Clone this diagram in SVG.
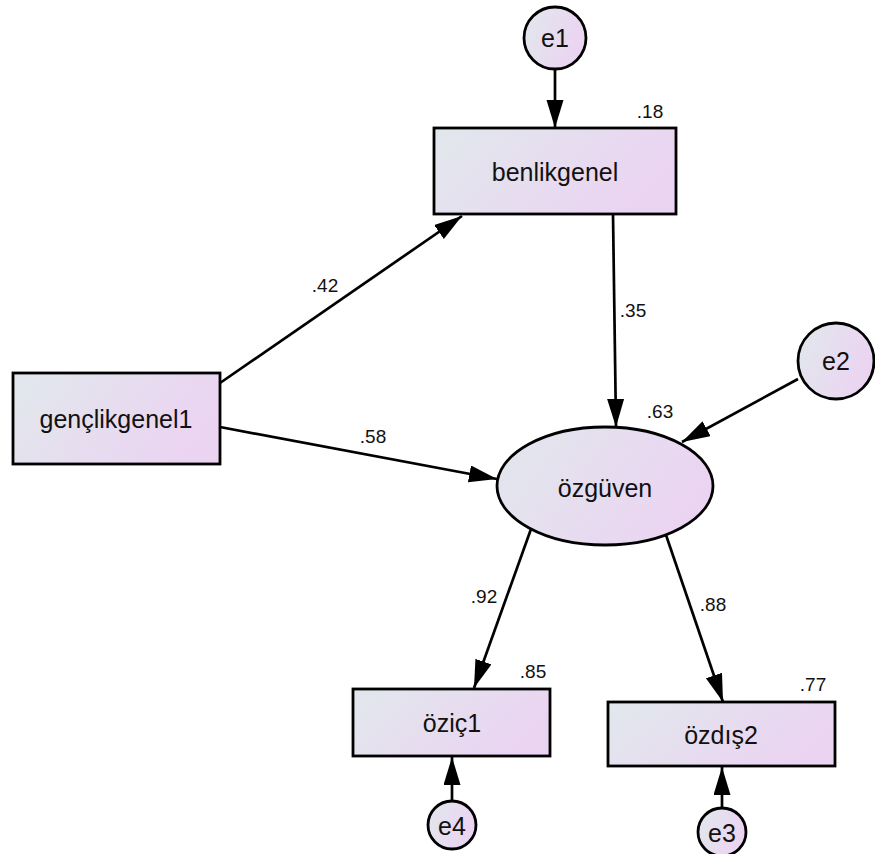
<svg xmlns="http://www.w3.org/2000/svg" width="875" height="854" viewBox="0 0 875 854">
<defs>
<linearGradient id="fill" x1="0" y1="0" x2="1" y2="0.35">
<stop offset="0" stop-color="#e1e8ec"/>
<stop offset="1" stop-color="#ebd4f2"/>
</linearGradient>
<marker id="arr" markerUnits="userSpaceOnUse" markerWidth="30" markerHeight="18" refX="28" refY="8.5" orient="auto">
<path d="M0,0 L28,8.5 L0,17 z" fill="#000"/>
</marker>
<style>
.shape{fill:url(#fill);stroke:#000;stroke-width:2.8}
.lbl{font-family:"Liberation Sans",Arial,sans-serif;font-size:25px;fill:#111;text-anchor:middle;dominant-baseline:central}
.num{font-family:"Liberation Sans",Arial,sans-serif;font-size:19px;fill:#111;text-anchor:middle;dominant-baseline:central}
.edge{stroke:#000;stroke-width:2.7;fill:none;marker-end:url(#arr)}
</style>
</defs>
<rect width="875" height="854" fill="#fff"/>
<g id="connectors">
<line class="edge" x1="555" y1="70" x2="555" y2="128"/>
<line class="edge" x1="220" y1="383" x2="462" y2="216"/>
<line class="edge" x1="220" y1="427" x2="497" y2="479"/>
<line class="edge" x1="613" y1="214" x2="616" y2="427"/>
<line class="edge" x1="798" y1="379" x2="682" y2="442"/>
<line class="edge" x1="531" y1="529" x2="474" y2="688"/>
<line class="edge" x1="666" y1="535" x2="723" y2="702"/>
<line class="edge" x1="452" y1="801" x2="452" y2="757"/>
<line class="edge" x1="722" y1="808" x2="722" y2="767"/>
<text class="num" x="325" y="285">.42</text>
<text class="num" x="373" y="436">.58</text>
<text class="num" x="633" y="310">.35</text>
<text class="num" x="484" y="596">.92</text>
<text class="num" x="713" y="604">.88</text>
</g>
<g id="e1">
<circle class="shape" cx="555" cy="38" r="31"/>
<text class="lbl" x="555" y="38">e1</text>
</g>
<g id="benlikgenel">
<rect class="shape" x="434" y="128" width="242" height="86"/>
<text class="lbl" x="555" y="172">benlikgenel</text>
<text class="num" x="650" y="111">.18</text>
</g>
<g id="genclikgenel1">
<rect class="shape" x="13" y="373" width="207" height="91"/>
<text class="lbl" x="116" y="419">gençlikgenel1</text>
</g>
<g id="e2">
<circle class="shape" cx="836" cy="361" r="38"/>
<text class="lbl" x="836" y="361">e2</text>
</g>
<g id="ozguven">
<ellipse class="shape" cx="605" cy="486" rx="108" ry="59"/>
<text class="lbl" x="605" y="488">özgüven</text>
<text class="num" x="660" y="411">.63</text>
</g>
<g id="oziç1">
<rect class="shape" x="353" y="689" width="197" height="67"/>
<text class="lbl" x="452" y="723">öziç1</text>
<text class="num" x="533" y="671">.85</text>
</g>
<g id="ozdis2">
<rect class="shape" x="608" y="702" width="227" height="64"/>
<text class="lbl" x="721" y="735">özdış2</text>
<text class="num" x="813" y="684">.77</text>
</g>
<g id="e4">
<circle class="shape" cx="452" cy="825" r="24"/>
<text class="lbl" x="452" y="826">e4</text>
</g>
<g id="e3">
<circle class="shape" cx="722" cy="832" r="24"/>
<text class="lbl" x="722" y="833">e3</text>
</g>
</svg>
